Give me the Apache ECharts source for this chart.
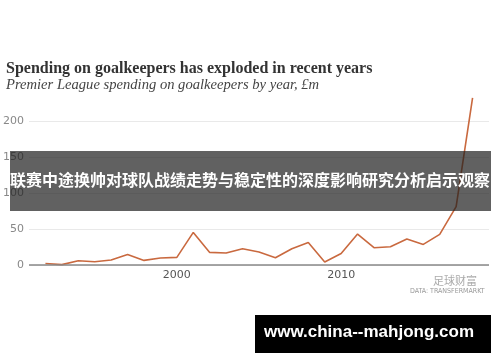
<!DOCTYPE html>
<html>
<head>
<meta charset="utf-8">
<script src="https://cdn.jsdelivr.net/npm/echarts@6/dist/echarts.min.js"></script>
<style>
  html, body { margin: 0; padding: 0; background: #fff; }
  #chart { width: 500px; height: 362px; }
</style>
</head>
<body>
<div id="chart"></div>
<script>
// Premier League spending on goalkeepers by year, £m
var years = [1992, 1993, 1994, 1995, 1996, 1997, 1998, 1999, 2000, 2001,
             2002, 2003, 2004, 2005, 2006, 2007, 2008, 2009, 2010, 2011,
             2012, 2013, 2014, 2015, 2016, 2017, 2018];
var spending = [2, 0.5, 6, 4.6, 7, 14.7, 6.4, 9.7, 10.6, 45.3,
                17.5, 16.6, 22.6, 18, 10, 22.6, 31.4, 4.1, 16, 43,
                24, 25.4, 36, 28.6, 42.5, 81, 232];
var yearTicks = [2000, 2010];

var titleText = 'Spending on goalkeepers has exploded in recent years';
var subtitleText = 'Premier League spending on goalkeepers by year, £m';
var bannerText = '联赛中途换帅对球队战绩走势与稳定性的深度影响研究分析启示观察';
var siteText = 'www.china--mahjong.com';

var chartDom = document.getElementById('chart');
var myChart = echarts.init(chartDom);

var points = years.map(function (y, i) { return [y, spending[i]]; });

var option = {
  animation: false,
  grid: { left: 29, right: 11, top: 121, bottom: 97 },
  xAxis: {
    type: 'value',
    min: 1991,
    max: 2019,
    splitLine: { show: false },
    axisTick: { show: false },
    axisLine: { show: false },
    axisLabel: {
      color: '#555',
      fontSize: 11,
      fontFamily: 'DejaVu Sans',
      margin: 5,
      formatter: function (v) { return yearTicks.indexOf(v) >= 0 ? String(v) : ''; }
    }
  },
  yAxis: {
    type: 'value',
    min: 0,
    max: 200,
    interval: 50,
    axisLine: { show: false },
    axisTick: { show: false },
    axisLabel: { color: '#888', fontSize: 11, fontFamily: 'DejaVu Sans', margin: 5 },
    splitLine: { lineStyle: { color: '#e9e9e9', width: 1 } }
  },
  series: [
    {
      type: 'line',
      data: points,
      clip: false,
      symbol: 'none',
      lineStyle: { color: '#c9693f', width: 1.6 },
      markLine: {
        silent: true,
        symbol: 'none',
        label: { show: false },
        lineStyle: { color: '#888', width: 1.5, type: 'solid' },
        data: [{ yAxis: 0 }]
      }
    }
  ],
  graphic: [
    {
      type: 'text', left: 6, top: 61,
      style: { text: titleText, fill: '#333', font: 'bold 16px "Liberation Serif"' }
    },
    {
      type: 'text', left: 6, top: 78,
      style: { text: subtitleText, fill: '#444', font: 'italic 14.6px "Liberation Serif"' }
    },
    {
      type: 'text', left: 433, top: 275,
      style: { text: '足球财富', fill: '#aaa', font: '11px "Noto Sans CJK SC"' }
    },
    {
      type: 'text', left: 410, top: 288,
      style: { text: 'DATA: TRANSFERMARKT', fill: '#999', font: '7px "DejaVu Sans Condensed"' }
    },
    {
      type: 'rect', left: 10, top: 151, z: 100,
      shape: { width: 481, height: 60 },
      style: { fill: 'rgba(30,30,30,0.7)' }
    },
    {
      type: 'text', left: 'center', top: 172, z: 101,
      style: { text: bannerText, fill: '#fff', font: 'bold 16px "Noto Sans CJK SC"' }
    },
    {
      type: 'rect', left: 255, top: 315, z: 100,
      shape: { width: 236, height: 38 },
      style: { fill: '#000' }
    },
    {
      type: 'text', left: 264, top: 324, z: 101,
      style: { text: siteText, fill: '#fff', font: 'bold 17px "Liberation Sans"' }
    }
  ]
};

myChart.setOption(option);
</script>
</body>
</html>
